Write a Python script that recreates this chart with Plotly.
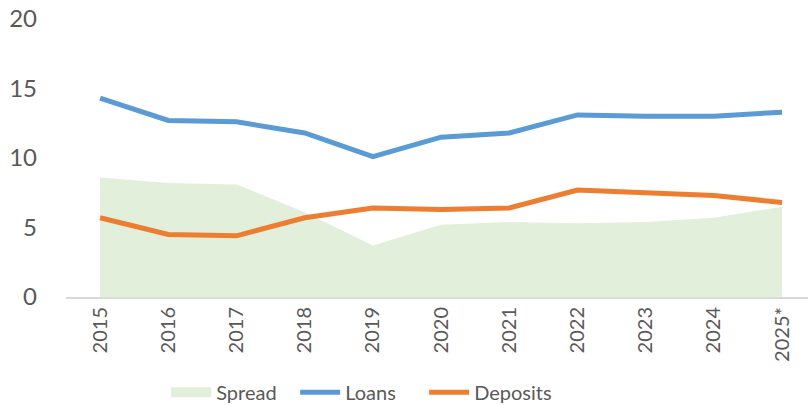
import plotly.graph_objects as go

years = ["2015", "2016", "2017", "2018", "2019", "2020", "2021", "2022", "2023", "2024", "2025*"]
loans = [14.3, 12.7, 12.6, 11.8, 10.1, 11.5, 11.8, 13.1, 13.0, 13.0, 13.3]
deposits = [5.7, 4.5, 4.4, 5.7, 6.4, 6.3, 6.4, 7.7, 7.5, 7.3, 6.8]
spread = [8.6, 8.2, 8.1, 6.1, 3.7, 5.2, 5.4, 5.3, 5.4, 5.7, 6.5]
y_ticks = [0, 5, 10, 15, 20]

FONT = "Lato"
SPREAD_C = "#E2EFDA"

fig = go.Figure()
fig.add_trace(go.Scatter(
    x=years, y=spread, name="Spread", mode="lines", showlegend=False,
    line=dict(width=0, color=SPREAD_C), fill="tozeroy", fillcolor=SPREAD_C,
))
# legend entry for the spread area (drawn as a wide swatch)
fig.add_trace(go.Scatter(
    x=[None], y=[None], name="Spread", mode="lines",
    line=dict(width=13, color=SPREAD_C),
))
fig.add_trace(go.Scatter(
    x=years, y=loans, name="Loans", mode="lines",
    line=dict(width=5, color="#5B9BD5"),
))
fig.add_trace(go.Scatter(
    x=years, y=deposits, name="Deposits", mode="lines",
    line=dict(width=5, color="#ED7D31"),
))

fig.update_layout(
    width=809, height=406,
    margin=dict(l=66, r=1, t=19, b=109, autoexpand=False),
    paper_bgcolor="white", plot_bgcolor="white",
    font=dict(family=FONT, color="#595959"),
    showlegend=True,
    legend=dict(
        orientation="h", x=0.135, xanchor="left", y=-0.343, yanchor="middle",
        font=dict(size=20, color="#595959"), itemwidth=40,
        entrywidth=74, entrywidthmode="pixels",
    ),
    xaxis=dict(
        type="category", range=[-0.5, 10.38], tickangle=-90, automargin=False,
        showgrid=False, showline=True, linecolor="#D9D9D9", linewidth=2,
        ticks="", tickfont=dict(size=20, color="#595959"),
    ),
    yaxis=dict(
        range=[0, 20], tickvals=y_ticks, showgrid=False, zeroline=False,
        showline=False, ticks="", tickfont=dict(size=24, color="#595959"),
        ticklabelstandoff=28, automargin=False, ticklabeloverflow="allow",
    ),
)

fig.write_html(
    "out.html",
    config={"displayModeBar": False},
    post_script="document.body.style.margin='0';",
)
